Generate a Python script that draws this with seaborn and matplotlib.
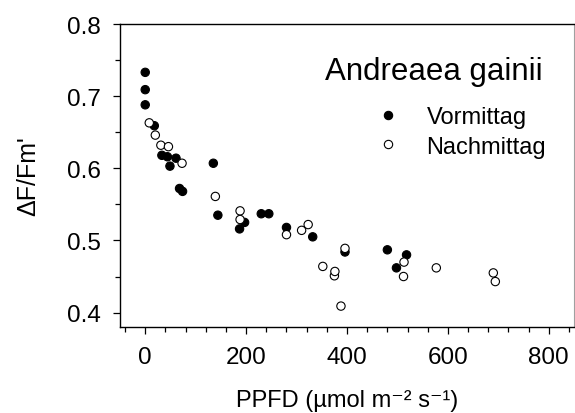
import pandas as pd
import matplotlib.pyplot as plt
import seaborn as sns
from matplotlib.lines import Line2D
from matplotlib.ticker import MultipleLocator

# values
vm_ppfd = [0, 0, 0, 18, 33, 44, 61, 49, 68, 74, 135, 144, 187, 197, 230, 245,
           280, 332, 396, 480, 498, 518]
vm_yield = [0.733, 0.709, 0.688, 0.659, 0.618, 0.616, 0.614, 0.603, 0.572, 0.568,
            0.607, 0.535, 0.516, 0.525, 0.537, 0.537, 0.518, 0.505, 0.484, 0.487,
            0.462, 0.480]
nm_ppfd = [8, 20, 31, 46, 73, 139, 188, 188, 280, 310, 323, 352, 375, 376, 388,
           396, 513, 512, 577, 690, 694]
nm_yield = [0.663, 0.646, 0.632, 0.630, 0.607, 0.561, 0.541, 0.529, 0.508, 0.514,
            0.522, 0.464, 0.451, 0.457, 0.409, 0.489, 0.470, 0.450, 0.462, 0.455,
            0.443]
groups = ["Vormittag", "Nachmittag"]

df = pd.concat([
    pd.DataFrame({"PPFD": vm_ppfd, "Yield": vm_yield, "Zeit": groups[0]}),
    pd.DataFrame({"PPFD": nm_ppfd, "Yield": nm_yield, "Zeit": groups[1]}),
], ignore_index=True)

sns.set_style("ticks")
plt.rcParams["font.family"] = ["Liberation Sans", "DejaVu Sans"]
plt.rcParams["text.color"] = "black"
plt.rcParams["axes.labelcolor"] = "black"

fig = plt.figure(figsize=(5.75, 4.14), dpi=100)
ax = fig.add_axes([0.2087, 0.2077, 0.7896, 0.7319])

colors = {"Vormittag": "black", "Nachmittag": "white"}
sns.scatterplot(data=df, x="PPFD", y="Yield", hue="Zeit", palette=colors,
                edgecolor="black", linewidth=0.8, s=36, legend=False, ax=ax)

ax.set_xlim(-50, 850)
ax.set_ylim(0.38, 0.8)
ax.xaxis.set_major_locator(MultipleLocator(200))
ax.xaxis.set_minor_locator(MultipleLocator(40))
ax.yaxis.set_major_locator(MultipleLocator(0.1))
ax.yaxis.set_minor_locator(MultipleLocator(0.05))
ax.tick_params(which="major", length=5, width=0.9, labelsize=17.5,
               colors="black", pad=9)
ax.tick_params(which="minor", length=3.5, width=0.9, colors="black")
ax.tick_params(top=False, right=False, which="both")

for side in ["left", "bottom", "top"]:
    ax.spines[side].set_color("black")
    ax.spines[side].set_linewidth(1.0)
ax.spines["right"].set_color("#a0a0a0")
ax.spines["right"].set_linewidth(0.8)

ax.set_xlabel("PPFD (µmol m⁻² s⁻¹)", fontsize=17, labelpad=15)
ax.set_ylabel("ΔF/Fm'", fontsize=18, labelpad=19)

ax.text(0.4515, 0.845, "Andreaea gainii", transform=ax.transAxes,
        ha="left", va="center", fontsize=22.5)
handles = [
    Line2D([], [], marker="o", linestyle="", markerfacecolor=colors[g],
           markeredgecolor="black", markeredgewidth=0.8, markersize=6, label=g)
    for g in groups
]
ax.legend(handles=handles, loc="center left", bbox_to_anchor=(0.540, 0.6436),
          frameon=False, fontsize=17, borderpad=0, handlelength=0.9,
          handletextpad=1.2, labelspacing=0.3)

fig.savefig("out.png", dpi=100)
